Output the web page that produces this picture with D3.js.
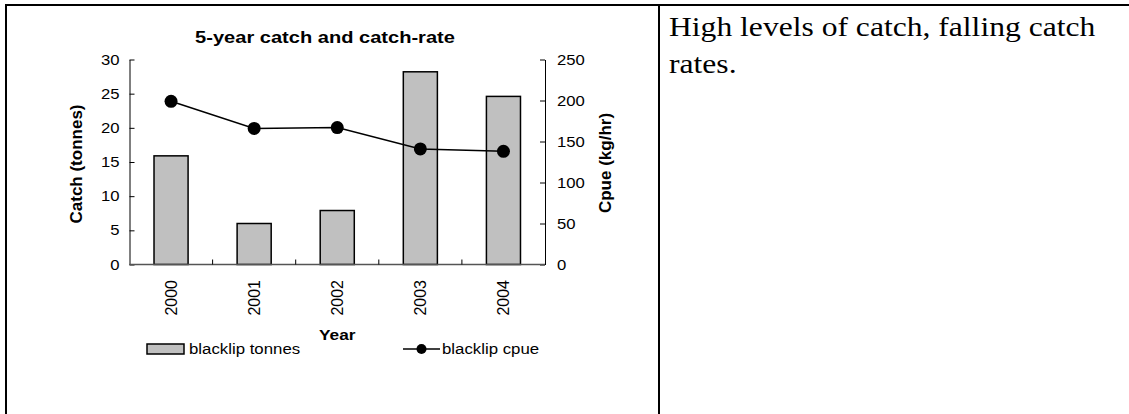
<!DOCTYPE html>
<html><head><meta charset="utf-8">
<script src="https://cdn.jsdelivr.net/npm/d3@7"></script>
<style>
html,body{margin:0;padding:0;background:#fff;}
svg{display:block;}
</style></head>
<body>
<svg id="chart" width="1129" height="414"></svg>
<script>
const years = ["2000","2001","2002","2003","2004"];
const tonnes = [15.9, 6.0, 7.9, 28.2, 24.6];
const cpue = [199, 166, 167, 141, 138];
const leftTicks = [0,5,10,15,20,25,30];
const rightTicks = [0,50,100,150,200,250];
const chartTitle = "5-year catch and catch-rate";
const leftLabel = "Catch (tonnes)";
const rightLabel = "Cpue (kg/hr)";
const xLabel = "Year";
const legendLabels = ["blacklip tonnes","blacklip cpue"];
const comment = ["High levels of catch, falling catch","rates."];

const svg = d3.select("#chart");
const font = "'Liberation Sans', Arial, sans-serif";

// widen text horizontally (the reference glyphs are wider than standard)
function stretch(sel, f){
  sel.each(function(){
    const len = this.getComputedTextLength();
    d3.select(this).attr("textLength", len*f).attr("lengthAdjust","spacingAndGlyphs");
  });
}

// table borders
svg.append("line").attr("x1",5).attr("x2",1129).attr("y1",5).attr("y2",5).attr("stroke","#000").attr("stroke-width",2);
svg.append("line").attr("x1",6).attr("x2",6).attr("y1",4).attr("y2",414).attr("stroke","#000").attr("stroke-width",2);
svg.append("line").attr("x1",659).attr("x2",659).attr("y1",4).attr("y2",414).attr("stroke","#000").attr("stroke-width",2);

// comment text
svg.append("g").selectAll("text").data(comment).join("text")
  .attr("x",669).attr("y",(d,i)=>36+i*37)
  .attr("font-family","'Liberation Serif','Times New Roman',serif").attr("font-size",27)
  .text(d=>d).call(stretch,1.17);

const L = 129.5, R = 545, T = 59.5, B = 264.5;
const x = d3.scaleBand().domain(years).range([L,R]).paddingInner(0.59).paddingOuter(0.295);
const yL = d3.scaleLinear().domain([0,30]).range([B,T]);
const yR = d3.scaleLinear().domain([0,250]).range([B,T]);

// bars
svg.append("g").selectAll("rect").data(years).join("rect")
  .attr("x",d=>x(d)).attr("width",x.bandwidth())
  .attr("y",(d,i)=>yL(tonnes[i])).attr("height",(d,i)=>B-yL(tonnes[i]))
  .attr("fill","#c0c0c0").attr("stroke","#000").attr("stroke-width",1.5);

// left axis
const gl = svg.append("g").attr("transform",`translate(${L},0)`)
  .call(d3.axisLeft(yL).tickValues(leftTicks).tickSize(-5).tickPadding(10).tickSizeOuter(0));
// right axis
const gr = svg.append("g").attr("transform",`translate(${R},0)`)
  .call(d3.axisRight(yR).tickValues(rightTicks).tickSize(-5).tickPadding(12).tickSizeOuter(0));
[gl,gr].forEach(g=>{
  g.selectAll("text").attr("font-family",font).attr("font-size",14.5).attr("fill","#000").call(stretch,1.15);
  g.select(".domain").attr("stroke","#000").attr("stroke-width",1);
  g.selectAll(".tick line").attr("stroke","#000");
});

// x axis
const step = x.step();
const bounds = years.slice(1).map(d=>x(d) - step*x.paddingInner()/2);
svg.append("line").attr("x1",L).attr("x2",R).attr("y1",B).attr("y2",B).attr("stroke","#555").attr("stroke-width",1.5);
svg.append("g").selectAll("line").data(bounds).join("line")
  .attr("x1",d=>d).attr("x2",d=>d).attr("y1",B).attr("y2",B-5).attr("stroke","#000");
svg.append("g").selectAll("text").data(years).join("text")
  .attr("transform",d=>`translate(${x(d)+x.bandwidth()/2+6},280) rotate(-90)`)
  .attr("text-anchor","end").attr("font-family",font).attr("font-size",16).text(d=>d);

// line
const cx = (d)=>x(d)+x.bandwidth()/2;
svg.append("path").datum(years).attr("fill","none").attr("stroke","#000").attr("stroke-width",1.5)
  .attr("d",d3.line().x(d=>cx(d)).y((d,i)=>yR(cpue[i])));
svg.append("g").selectAll("circle").data(years).join("circle")
  .attr("cx",d=>cx(d)).attr("cy",(d,i)=>yR(cpue[i])).attr("r",6.5).attr("fill","#000");

// titles
svg.append("text").attr("x",325).attr("y",43).attr("text-anchor","middle").attr("font-family",font)
  .attr("font-weight","bold").attr("font-size",17).text(chartTitle).call(stretch,1.18);
svg.append("text").attr("transform","translate(82,164) rotate(-90)").attr("text-anchor","middle")
  .attr("font-family",font).attr("font-weight","bold").attr("font-size",17).text(leftLabel);
svg.append("text").attr("transform","translate(611,163) rotate(-90)").attr("text-anchor","middle")
  .attr("font-family",font).attr("font-weight","bold").attr("font-size",17).text(rightLabel);
svg.append("text").attr("x",(L+R)/2).attr("y",340).attr("text-anchor","middle").attr("font-family",font)
  .attr("font-weight","bold").attr("font-size",15).text(xLabel).call(stretch,1.15);

// legend
svg.append("rect").attr("x",147).attr("y",344).attr("width",37).attr("height",10)
  .attr("fill","#c0c0c0").attr("stroke","#000").attr("stroke-width",1.5);
svg.append("text").attr("x",189).attr("y",354).attr("font-family",font).attr("font-size",14)
  .text(legendLabels[0]).call(stretch,1.2);
svg.append("line").attr("x1",403).attr("x2",440).attr("y1",349).attr("y2",349).attr("stroke","#000").attr("stroke-width",1.5);
svg.append("circle").attr("cx",421.5).attr("cy",349).attr("r",5).attr("fill","#000");
svg.append("text").attr("x",442).attr("y",354).attr("font-family",font).attr("font-size",14)
  .text(legendLabels[1]).call(stretch,1.2);
</script>
</body></html>
